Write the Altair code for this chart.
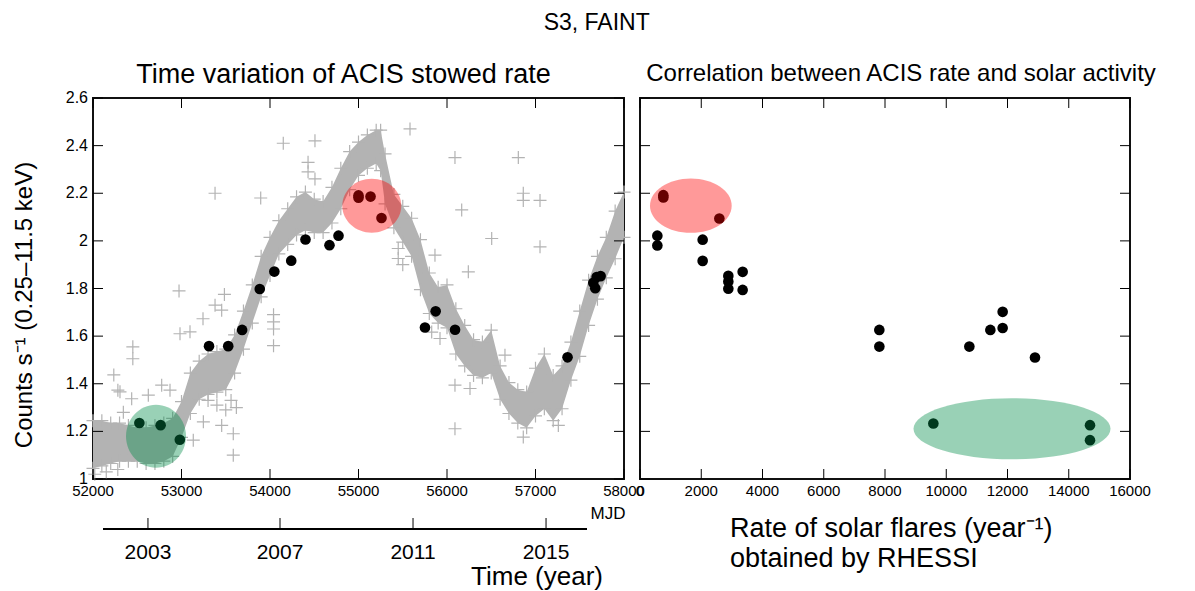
import altair as alt
import pandas as pd

FONT = "Liberation Sans"

# ---------------------------------------------------------------- data
# Left panel: grey "+" cloud of the ACIS stowed rate, read as the centres of
# the lower / upper edge crosses of the dense band
band_mjd = [52000, 52100, 52200, 52300, 52400, 52500, 52600, 52700, 52800, 52900,
            53000, 53100, 53200, 53300, 53400, 53500, 53600, 53700, 53800, 53900,
            54000, 54100, 54200, 54300, 54400, 54500, 54600, 54700, 54800, 54900,
            55000, 55100, 55200, 55250, 55300, 55400, 55500, 55600, 55700, 55800,
            55900, 56000, 56100, 56200, 56300, 56400, 56500, 56600, 56700, 56800,
            56900, 57000, 57100, 57200, 57300, 57400, 57500, 57600, 57700, 57800,
            57900, 58000]
band_lo = [1.045, 1.055, 1.065, 1.075, 1.075, 1.075, 1.065, 1.065, 1.075, 1.095,
           1.175, 1.275, 1.335, 1.355, 1.365, 1.375, 1.445, 1.545, 1.655, 1.765,
           1.855, 1.945, 1.985, 2.025, 2.045, 2.035, 2.035, 2.075, 2.135, 2.215,
           2.275, 2.305, 2.325, 2.295, 2.155, 2.055, 1.995, 1.935, 1.795, 1.695,
           1.655, 1.635, 1.525, 1.475, 1.435, 1.425, 1.445, 1.335, 1.275, 1.235,
           1.215, 1.265, 1.295, 1.245, 1.295, 1.415, 1.515, 1.645, 1.755, 1.845,
           1.925, 2.015]
band_hi = [1.245, 1.245, 1.235, 1.235, 1.225, 1.215, 1.215, 1.225, 1.235, 1.255,
           1.325, 1.445, 1.495, 1.525, 1.535, 1.545, 1.605, 1.705, 1.815, 1.935,
           2.015, 2.085, 2.135, 2.185, 2.205, 2.175, 2.165, 2.225, 2.305, 2.375,
           2.415, 2.445, 2.465, 2.465, 2.365, 2.195, 2.145, 2.095, 2.005, 1.865,
           1.805, 1.815, 1.715, 1.645, 1.585, 1.575, 1.625, 1.475, 1.405, 1.375,
           1.365, 1.465, 1.525, 1.435, 1.475, 1.575, 1.705, 1.835, 1.935, 2.015,
           2.125, 2.205]

# isolated grey crosses
out_mjd = [53379, 53895, 54150, 54508, 55582, 56090, 56806, 56862, 56862, 57051,
           56166, 56505, 57051, 56241, 52972, 53485, 52450, 52450, 52235, 52281,
           52305, 52437, 52625, 52776, 52870, 52343, 53243, 53096, 52983, 53379,
           53454, 53247, 53454, 53133, 53585, 53585, 54040, 54040, 54040, 54040,
           54430, 54430, 54508, 55449, 55449, 55864, 55827, 55921, 56090, 56090,
           56655, 57258, 56862, 56260, 52020, 52150, 52280, 53300, 53400, 53500,
           53560, 53620, 55500]
out_rate = [2.20, 2.18, 2.41, 2.42, 2.47, 2.35, 2.35, 2.20, 2.17, 2.17,
            2.13, 2.01, 1.975, 1.87, 1.79, 1.775, 1.555, 1.505, 1.437, 1.373,
            1.366, 1.337, 1.352, 1.394, 1.373, 1.28, 1.673, 1.618, 1.61, 1.73,
            1.709, 1.24, 1.225, 1.163, 1.19, 1.10, 1.69, 1.66, 1.63, 1.56,
            2.33, 2.29, 2.26, 1.968, 1.926, 1.94, 1.617, 1.59, 1.394, 1.211,
            1.52, 1.225, 1.176, 1.38, 1.02, 1.03, 1.04, 1.33, 1.31, 1.29,
            1.33, 1.30, 1.90]

# black dots (left panel)
dot_mjd = [52524, 52764, 52981, 53311, 53528, 53685, 53884, 54049, 54240, 54401,
           54672, 54774, 55000, 55000, 55136, 55260, 55751, 55872, 56091, 57362,
           57653, 57675, 57691, 57736]
dot_rate = [1.235, 1.226, 1.165, 1.558, 1.558, 1.626, 1.798, 1.871, 1.917, 2.006,
            1.982, 2.022, 2.191, 2.181, 2.186, 2.096, 1.636, 1.704, 1.627, 1.511,
            1.824, 1.801, 1.848, 1.852]

# right panel: flare rate vs ACIS rate
flare_rate = [762, 762, 2591, 566, 566, 2046, 2046, 2884, 2884, 2884, 3352, 3352,
              7815, 7815, 10754, 11440, 11842, 11842, 12898, 9578, 14694, 14694]
acis_rate = [2.192, 2.182, 2.094, 2.022, 1.981, 2.005, 1.916, 1.853, 1.829, 1.799,
             1.870, 1.794, 1.626, 1.556, 1.556, 1.626, 1.634, 1.702, 1.510, 1.233,
             1.226, 1.163]

# highlight ellipse centres
green_left = {"x": [52712], "y": [1.18]}
red_left = {"x": [55150], "y": [2.148]}
red_right = {"x": [1660], "y": [2.148]}
green_right = {"x": [12147], "y": [1.211]}

# axis ticks / labels
mjd_ticks = [52000, 53000, 54000, 55000, 56000, 57000, 58000]
rate_ticks = [1.0, 1.2, 1.4, 1.6, 1.8, 2.0, 2.2, 2.4, 2.6]
rate_labels = ["1", "1.2", "1.4", "1.6", "1.8", "2", "2.2", "2.4", "2.6"]
flare_ticks = [0, 2000, 4000, 6000, 8000, 10000, 12000, 14000, 16000]
year_labels = ["2003", "2007", "2011", "2015"]
year_mjd = [52621, 54113, 55616, 57119]
year_line = {"a": [52113], "b": [57582]}
mjd_label = {"x": [57819], "t": ["MJD"]}

TITLE = "S3, FAINT"
LEFT_TITLE = "Time variation of ACIS stowed rate"
RIGHT_TITLE = "Correlation between ACIS rate and solar activity"
Y_TITLE = "Counts s⁻¹ (0.25–11.5 keV)"
LEFT_X_TITLE = "Time (year)"
RIGHT_X_TITLE = ["Rate of solar flares (year⁻¹)", "obtained by RHESSI"]

# ---------------------------------------------------------------- styles
W1, W2, H = 531, 490, 381
GREY = "#b3b3b3"
CROSS = "M -1 0 L 1 0 M 0 -1 L 0 1"


def ellipse(ratio):
    return f"M -1 0 A 1 {ratio} 0 1 1 1 0 A 1 {ratio} 0 1 1 -1 0 Z"


xs1 = alt.Scale(domain=[52000, 58000], nice=False, zero=False)
xs2 = alt.Scale(domain=[0, 16000], nice=False, zero=False)
ys = alt.Scale(domain=[1.0, 2.6], nice=False, zero=False)


def X(field, xs):
    return alt.X(field, scale=xs, axis=None)


def Y(field):
    return alt.Y(field, scale=ys, axis=None)


def inward_ticks(xvals, yvals, xs, W):
    tx = pd.DataFrame({"t": xvals})
    ty = pd.DataFrame({"t": yvals})
    r = dict(color="black", strokeWidth=1)
    return [
        alt.Chart(tx).mark_rule(**r).encode(x=X("t:Q", xs), y=alt.value(H), y2=alt.value(H - 10)),
        alt.Chart(tx).mark_rule(**r).encode(x=X("t:Q", xs), y=alt.value(0), y2=alt.value(10)),
        alt.Chart(ty).mark_rule(**r).encode(y=Y("t:Q"), x=alt.value(0), x2=alt.value(10)),
        alt.Chart(ty).mark_rule(**r).encode(y=Y("t:Q"), x=alt.value(W - 10), x2=alt.value(W)),
    ]


def x_labels(vals, xs, size):
    df = pd.DataFrame({"t": vals, "s": [str(v) for v in vals]})
    return alt.Chart(df).mark_text(font=FONT, fontSize=size, color="black",
                                   baseline="middle", align="center").encode(
        x=X("t:Q", xs), y=alt.value(H + 12), text="s:N")


def text_at(lines, x, y, size, align="center", baseline="alphabetic", angle=0):
    return alt.Chart(pd.DataFrame({"s": [lines]})).mark_text(
        font=FONT, fontSize=size, color="black", align=align, baseline=baseline,
        angle=angle, lineHeight=30
    ).encode(x=alt.value(x), y=alt.value(y), text="s:N")


def blob(d, xs, ratio, width, color):
    return alt.Chart(pd.DataFrame(d)).mark_point(
        shape=ellipse(ratio), size=width * width, filled=True, color=color,
        opacity=0.4, strokeWidth=0
    ).encode(x=X("x:Q", xs), y=Y("y:Q"))


# ---------------------------------------------------------------- left panel
band_df = pd.DataFrame({"mjd": band_mjd, "lo": band_lo, "hi": band_hi})

band = alt.Chart(band_df).mark_area(color=GREY, opacity=1).encode(
    x=X("mjd:Q", xs1), y=Y("lo:Q"), y2="hi:Q")
edges = alt.Chart(band_df).transform_fold(["lo", "hi"], as_=["edge", "v"]).mark_point(
    shape=CROSS, size=169, filled=False, color=GREY, strokeWidth=1.2, opacity=1
).encode(x=X("mjd:Q", xs1), y=Y("v:Q"))
outl = alt.Chart(pd.DataFrame({"mjd": out_mjd, "v": out_rate})).mark_point(
    shape=CROSS, size=169, filled=False, color=GREY, strokeWidth=1.2, opacity=1
).encode(x=X("mjd:Q", xs1), y=Y("v:Q"))
dots_l = alt.Chart(pd.DataFrame({"mjd": dot_mjd, "v": dot_rate})).mark_circle(
    size=113, color="black", opacity=1).encode(x=X("mjd:Q", xs1), y=Y("v:Q"))

gl = blob(green_left, xs1, 1.05, 60, "#008c48")
rl = blob(red_left, xs1, 0.915, 59, "#ff0000")

y_lab = alt.Chart(pd.DataFrame({"t": rate_ticks, "s": rate_labels})).mark_text(
    font=FONT, fontSize=16, color="black", align="right", baseline="middle"
).encode(y=Y("t:Q"), x=alt.value(-5), text="s:N")

yr_line = alt.Chart(pd.DataFrame(year_line)).mark_rule(color="black", strokeWidth=2).encode(
    x=X("a:Q", xs1), x2="b:Q", y=alt.value(431))
yr_df = pd.DataFrame({"mjd": year_mjd, "lbl": year_labels})
yr_ticks = alt.Chart(yr_df).mark_rule(color="black", strokeWidth=1).encode(
    x=X("mjd:Q", xs1), y=alt.value(420), y2=alt.value(431))
yr_text = alt.Chart(yr_df).mark_text(font=FONT, fontSize=21, baseline="middle",
                                     align="center", color="black").encode(
    x=X("mjd:Q", xs1), y=alt.value(455), text="lbl:N")
mjd_text = alt.Chart(pd.DataFrame(mjd_label)).mark_text(
    font=FONT, fontSize=17, baseline="middle", align="center", color="black").encode(
    x=X("x:Q", xs1), y=alt.value(416), text="t:N")

left = alt.layer(
    band, edges, outl, dots_l, gl, rl, *inward_ticks(mjd_ticks, rate_ticks, xs1, W1),
    x_labels(mjd_ticks, xs1, 15), y_lab,
    text_at(Y_TITLE, -68, 207, 24, baseline="middle", angle=270),
    text_at(LEFT_X_TITLE, 444, 487, 26),
    yr_line, yr_ticks, yr_text, mjd_text
).properties(
    width=W1, height=H,
    title=alt.TitleParams(LEFT_TITLE, fontSize=27, font=FONT, fontWeight="normal",
                          anchor="middle", frame="group", offset=1, dx=-15),
)

# ---------------------------------------------------------------- right panel
dots_r = alt.Chart(pd.DataFrame({"f": flare_rate, "v": acis_rate})).mark_circle(
    size=113, color="black", opacity=1).encode(x=X("f:Q", xs2), y=Y("v:Q"))

rr = blob(red_right, xs2, 0.665, 81.7, "#ff0000")
gr = blob(green_right, xs2, 0.31, 197, "#008c48")

right = alt.layer(
    dots_r, rr, gr, *inward_ticks(flare_ticks, rate_ticks, xs2, W2),
    x_labels(flare_ticks, xs2, 15),
    text_at(RIGHT_X_TITLE, 90, 439, 27, align="left"),
).properties(
    width=W2, height=H,
    title=alt.TitleParams(RIGHT_TITLE, fontSize=24, font=FONT, fontWeight="normal",
                          anchor="middle", frame="group", offset=12, dx=16),
)

chart = alt.hconcat(left, right, spacing=16, bounds="flush").properties(
    title=alt.TitleParams(TITLE, fontSize=23, font=FONT, fontWeight="normal",
                          anchor="middle", offset=25, dx=12),
    padding={"left": 12, "top": 12, "right": 5, "bottom": 5},
    background="white",
).configure_view(stroke="#111111", strokeWidth=2).configure_title(font=FONT, color="black")

chart.save("out.html", embed_options={"renderer": "svg", "actions": False})
